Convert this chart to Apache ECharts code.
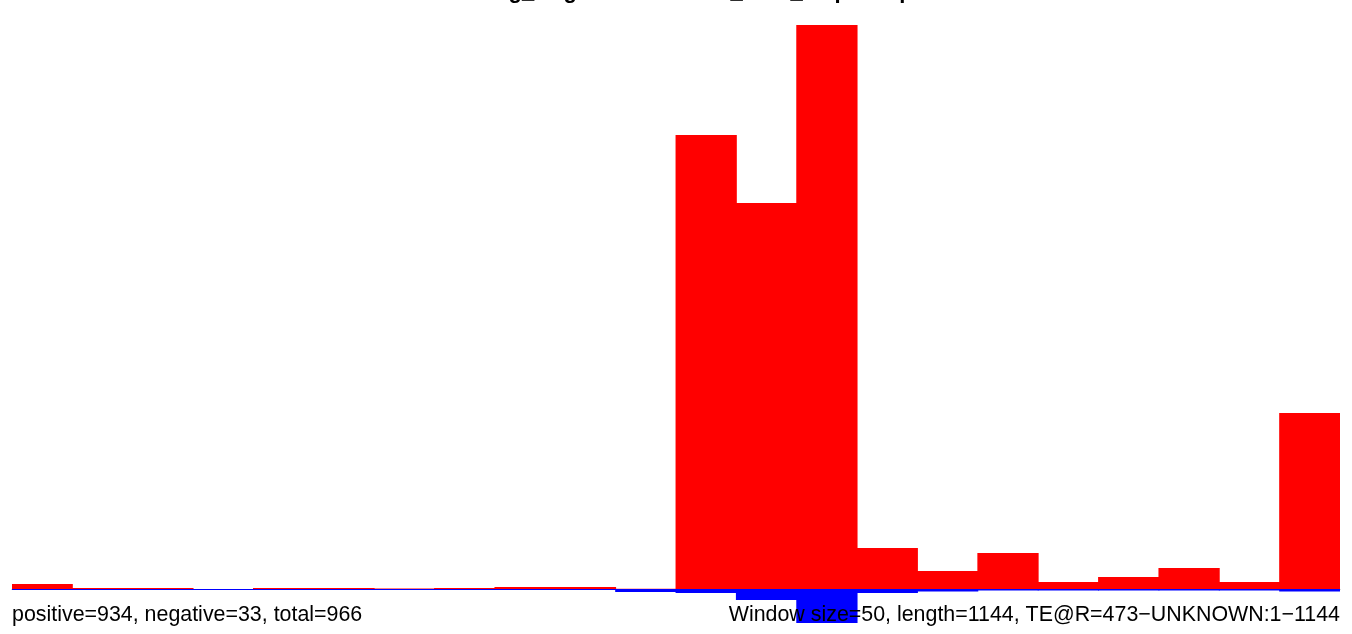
<!DOCTYPE html>
<html>
<head>
<meta charset="utf-8">
<script src="https://cdn.jsdelivr.net/npm/echarts@6/dist/echarts.min.js"></script>
<style>
html,body{margin:0;padding:0;background:#fff;}
#chart{width:1352px;height:634px;}
</style>
</head>
<body>
<div id="chart"></div>
<script>
// window start positions (window size 50)
var windowStarts = ['1','51','101','151','201','251','301','351','401','451','501','551','601','651','701','751','801','851','901','951','1001','1051'];
// positive-strand values per window
var positiveValues = [5, 1, 1, 0, 1, 1, 0.5, 1, 2, 2, 0.3, 454, 386, 564, 41, 18, 36, 7, 12, 21, 7, 176];
// negative-strand values per window (plotted downwards)
var negativeValues = [1, 1, 1, 1, 1, 1, 1, 1, 1, 1, 3, 4, 11, 34, 4, 2.5, 1.5, 1.5, 1.5, 1.5, 1.5, 2.5];
var titleText = 'Retolog_RogAT/ELEMENTS_Rate_map hits plot';
var leftNote = 'positive=934, negative=33, total=966';
var rightNote = 'Window size=50, length=1144, TE@R=473\u2212UNKNOWN:1\u22121144';

var chart = echarts.init(document.getElementById('chart'), null, {renderer: 'canvas'});
var posMax = Math.max.apply(null, positiveValues);
var negMax = Math.max.apply(null, negativeValues);
chart.setOption({
  animation: false,
  backgroundColor: '#ffffff',
  grid: {left: 12, right: 12, top: 25, bottom: 11, containLabel: false},
  xAxis: {
    type: 'category',
    data: windowStarts,
    axisLine: {show: true, onZero: true, lineStyle: {color: '#aaaaaa', width: 1}},
    axisTick: {show: false},
    axisLabel: {show: false},
    splitLine: {show: false}
  },
  yAxis: {
    type: 'value',
    min: -negMax,
    max: posMax,
    show: false,
    splitLine: {show: false}
  },
  series: [
    {
      type: 'bar',
      stack: 'strand',
      data: positiveValues,
      barWidth: '101.5%',
      itemStyle: {color: '#ff0000'}
    },
    {
      type: 'bar',
      stack: 'strand',
      data: negativeValues.map(function (v) { return -v; }),
      barWidth: '101.5%',
      itemStyle: {color: '#0000ff'}
    }
  ],
  graphic: [
    {
      type: 'text', z: 100, x: 440, y: -8,
      style: {text: titleText, font: 'bold 22px "Liberation Sans", Arial, sans-serif', fill: '#000', textAlign: 'left', textVerticalAlign: 'middle'}
    },
    {
      type: 'text', z: 100, x: 12, y: 615,
      style: {text: leftNote, font: '21.4px "Liberation Sans", Arial, sans-serif', fill: '#000', textAlign: 'left', textVerticalAlign: 'middle'}
    },
    {
      type: 'text', z: 100, x: 1340, y: 615,
      style: {text: rightNote, font: '21.4px "Liberation Sans", Arial, sans-serif', fill: '#000', textAlign: 'right', textVerticalAlign: 'middle'}
    }
  ]
});
</script>
</body>
</html>
